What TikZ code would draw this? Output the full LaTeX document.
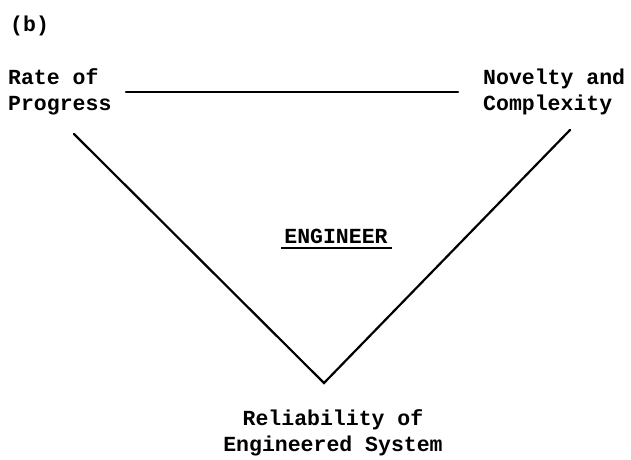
\documentclass[tikz,border=0pt]{standalone}
\usepackage{fontspec}
\setmonofont{Liberation Mono}
\begin{document}
\begin{tikzpicture}[x=1pt,y=-1pt,
  lbl/.style={font=\ttfamily\bfseries\fontsize{21.5}{26}\selectfont, inner sep=0pt},
  edge/.style={line width=2.2pt, line cap=round, line join=miter}]
\useasboundingbox (0,0) rectangle (631,459);
\node[lbl, anchor=base west] (b) at (10,31) {(b)};
\node[lbl, anchor=base west, align=left] (rate) at (8,110) {Rate of\\Progress};
\node[lbl, anchor=base west, align=left] (nov) at (483,110) {Novelty and\\Complexity};
\node[lbl, anchor=base] (eng) at (336,243) {ENGINEER};
\node[lbl, anchor=base, align=center] (rel) at (333,451) {Reliability of\\Engineered System};
\coordinate (tl) at (126,92);
\coordinate (tr) at (458,92);
\coordinate (dl) at (74,134);
\coordinate (dr) at (570,130);
\coordinate (apex) at (324,383);
\coordinate (ul) at (281,248);
\coordinate (ur) at (392,248);
\draw[edge] (tl) -- (tr);
\draw[edge] (dl) -- (apex) -- (dr);
\draw[line width=2.8pt] (ul) -- (ur);
\end{tikzpicture}
\end{document}
